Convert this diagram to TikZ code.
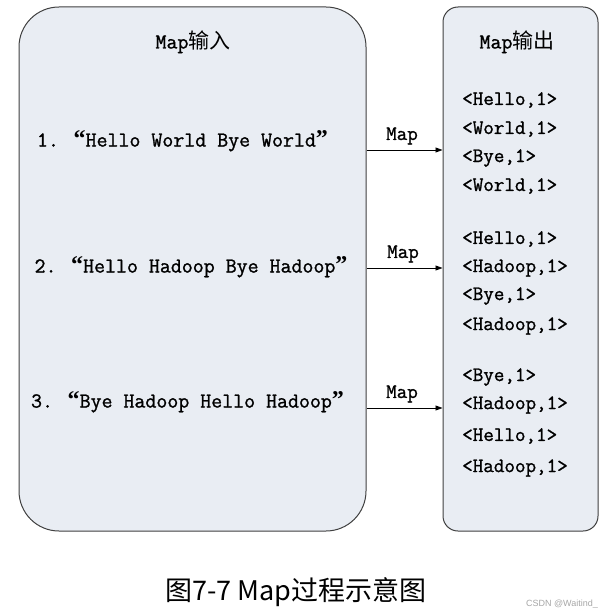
\documentclass[tikz,border=0pt]{standalone}
\usepackage{fontspec}
\newfontfamily\cjk{Noto Sans CJK SC}
\newfontfamily\bmono[FakeBold=1.2]{Latin Modern Mono}
\newfontfamily\qfont{Liberation Serif}
\newfontfamily\wmfont{Liberation Sans}
\usetikzlibrary{arrows.meta}
\definecolor{boxfill}{HTML}{E9EDF3}
\definecolor{boxline}{HTML}{404040}
\newcommand{\myLq}{{\qfont\bfseries\fontsize{24}{24}\selectfont “}}
\newcommand{\myRq}{{\qfont\bfseries\fontsize{24}{24}\selectfont ”}}
\begin{document}
\begin{tikzpicture}[x=1pt,y=-1pt,
  box/.style={draw=boxline, fill=boxfill, line width=1pt, inner sep=0pt},
  txt/.style={font=\bmono\fontsize{20.5}{24}\selectfont, inner sep=0pt},
  big/.style={font=\bmono\fontsize{21.3}{24}\selectfont, inner sep=0pt},
  item/.style={txt, anchor=west},
  arr/.style={-{Triangle[length=7pt,width=5pt]}, line width=0.8pt}]
\useasboundingbox (0,0) rectangle (612,615);
% boxes
\node[box, rounded corners=40pt, minimum width=347pt, minimum height=524pt] (in) at (192.5,269) {};
\node[box, rounded corners=15pt, minimum width=155pt, minimum height=524pt] (out) at (520.5,269) {};
% headings
\node[big] (hin) at (193,42) {Map{\cjk\fontsize{21}{24}\selectfont 输入}};
\node[big] (hout) at (517,42) {Map{\cjk\fontsize{21}{24}\selectfont 输出}};
% input lines
\node[big] (t1) at (182.5,141) {1. \myLq Hello World Bye World\myRq};
\node[big] (t2) at (191,267) {2. \myLq Hello Hadoop Bye Hadoop\myRq};
\node[big] (t3) at (187.5,402) {3. \myLq Bye Hadoop Hello Hadoop\myRq};
% arrows
\coordinate (a1) at (0,150);
\coordinate (a2) at (0,268);
\coordinate (a3) at (0,408);
\draw[arr] (in.east |- a1) -- (out.west |- a1);
\draw[arr] (in.east |- a2) -- (out.west |- a2);
\draw[arr] (in.east |- a3) -- (out.west |- a3);
\node[txt] (m1) at (402,136) {Map};
\node[txt] (m2) at (403,254) {Map};
\node[txt] (m3) at (402,394) {Map};
% outputs
\node[item] (o1) at (462,100) {<Hello,1>};
\node[item] (o2) at (462,129) {<World,1>};
\node[item] (o3) at (462,158) {<Bye,1>};
\node[item] (o4) at (462,186) {<World,1>};
\node[item] (o5) at (462,239) {<Hello,1>};
\node[item] (o6) at (462,268) {<Hadoop,1>};
\node[item] (o7) at (462,296) {<Bye,1>};
\node[item] (o8) at (462,326) {<Hadoop,1>};
\node[item] (o9) at (462,377) {<Bye,1>};
\node[item] (o10) at (462,405) {<Hadoop,1>};
\node[item] (o11) at (462,436) {<Hello,1>};
\node[item] (o12) at (462,468) {<Hadoop,1>};
% caption
\node[font=\cjk\fontsize{27}{30}\selectfont, inner sep=0pt] (cap) at (296,592) {图7-7 Map过程示意图};
\node[font=\wmfont\fontsize{9}{10}\selectfont, text=black!35, inner sep=0pt] (wm) at (562,604) {CSDN @Waitind\_};
\end{tikzpicture}
\end{document}
